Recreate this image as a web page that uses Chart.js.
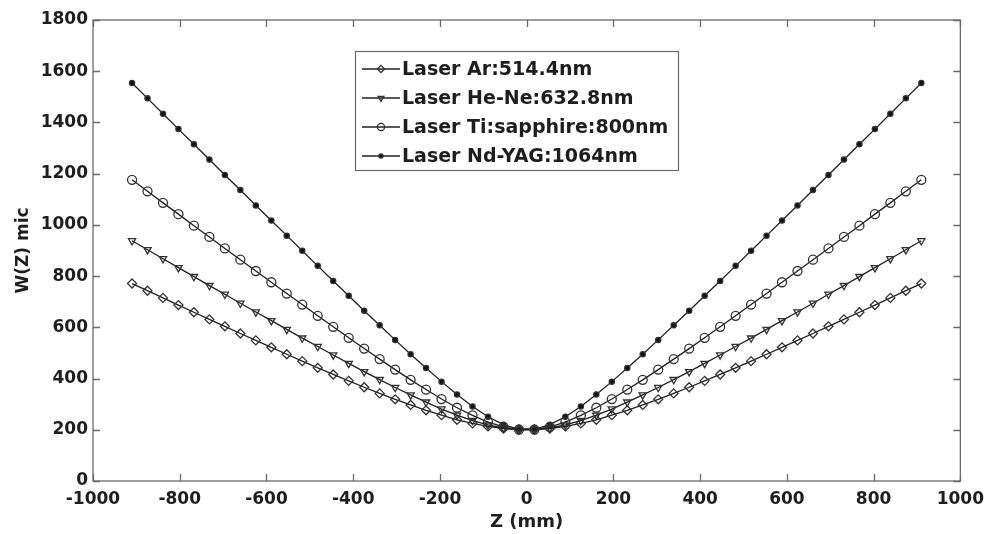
<!DOCTYPE html>
<html>
<head>
<meta charset="utf-8">
<script src="https://cdn.jsdelivr.net/npm/chart.js@4.4.1/dist/chart.umd.min.js"></script>
<style>
  html, body { margin: 0; padding: 0; background: #ffffff; }
  #wrap { width: 992px; height: 534px; }
</style>
</head>
<body>
<div id="wrap"><canvas id="c" width="992" height="534"></canvas></div>
<script>
// Propagation distance z (mm)
const zValues = [
  -910.0, -874.3, -838.6, -803.0, -767.3, -731.6, -695.9, -660.2, -624.5, -588.8,
  -553.2, -517.5, -481.8, -446.1, -410.4, -374.7, -339.0, -303.3, -267.6, -232.0,
  -196.3, -160.6, -124.9, -89.2, -53.5, -17.8,
  17.8, 53.5, 89.2, 124.9, 160.6, 196.3, 232.0, 267.6, 303.3, 339.0,
  374.7, 410.4, 446.1, 481.8, 517.5, 553.2, 588.8, 624.5, 660.2, 695.9,
  731.6, 767.3, 803.0, 838.6, 874.3, 910.0
];

// Beam radius W(z) in microns for each laser
const arValues = [
  771, 743, 715, 687, 659, 631, 604, 576, 549, 522, 495, 468, 442, 416, 391, 366, 342, 319, 297, 276, 257, 239, 225, 213, 205, 201,
  201, 205, 213, 225, 239, 257, 276, 297, 319, 342, 366, 391, 416, 442, 468, 495, 522, 549, 576, 604, 631, 659, 687, 715, 743, 771
];
const heneValues = [
  938, 903, 868, 833, 798, 763, 729, 694, 660, 626, 592, 558, 525, 492, 459, 427, 396, 365, 336, 308, 281, 257, 236, 219, 207, 201,
  201, 207, 219, 236, 257, 281, 308, 336, 365, 396, 427, 459, 492, 525, 558, 592, 626, 660, 694, 729, 763, 798, 833, 868, 903, 938
];
const tiValues = [
  1176, 1131, 1086, 1042, 997, 953, 908, 864, 820, 776, 732, 689, 645, 602, 559, 517, 476, 435, 395, 357, 320, 286, 256, 230, 211, 201,
  201, 211, 230, 256, 286, 320, 357, 395, 435, 476, 517, 559, 602, 645, 689, 732, 776, 820, 864, 908, 953, 997, 1042, 1086, 1131, 1176
];
const ndValues = [
  1554, 1494, 1434, 1374, 1315, 1255, 1195, 1136, 1076, 1017, 958, 899, 840, 781, 723, 665, 608, 551, 495, 441, 388, 338, 291, 251, 220, 202,
  202, 220, 251, 291, 338, 388, 441, 495, 551, 608, 665, 723, 781, 840, 899, 958, 1017, 1076, 1136, 1195, 1255, 1315, 1374, 1434, 1494, 1554
];

const seriesLabels = [
  'Laser Ar:514.4nm',
  'Laser He-Ne:632.8nm',
  'Laser Ti:sapphire:800nm',
  'Laser Nd-YAG:1064nm'
];

const xTicks = [-1000, -800, -600, -400, -200, 0, 200, 400, 600, 800, 1000];
const yTicks = [0, 200, 400, 600, 800, 1000, 1200, 1400, 1600, 1800];

const FONT = '"DejaVu Sans", Verdana, sans-serif';
const INK = '#1e1e1e';
const LINE = '#202020';
const FRAME = '#6a6a6a';

function toPoints(ys) {
  return zValues.map((z, i) => ({ x: z, y: ys[i] }));
}

const markerStyles = [
  { pointStyle: 'rectRot', radius: 4.5, rotation: 0, fill: 'rgba(255,255,255,0)' },
  { pointStyle: 'triangle', radius: 4.2, rotation: 180, fill: 'rgba(255,255,255,0)' },
  { pointStyle: 'circle', radius: 4.5, rotation: 0, fill: 'rgba(255,255,255,0)' },
  { pointStyle: 'circle', radius: 2.6, rotation: 0, fill: '#111111' }
];

const datasets = [arValues, heneValues, tiValues, ndValues].map((vals, i) => ({
  label: seriesLabels[i],
  data: toPoints(vals),
  borderColor: LINE,
  borderWidth: 1.3,
  pointStyle: markerStyles[i].pointStyle,
  pointRadius: markerStyles[i].radius,
  pointRotation: markerStyles[i].rotation,
  pointBackgroundColor: markerStyles[i].fill,
  pointBorderColor: '#333333',
  pointBorderWidth: 1.3,
  tension: 0,
  fill: false
}));

// Frame around the plot area with inward-pointing tick marks on all four sides
const framePlugin = {
  id: 'frame',
  afterDatasetsDraw(chart) {
    const { ctx, chartArea: a, scales } = chart;
    ctx.save();
    ctx.strokeStyle = FRAME;
    ctx.lineWidth = 1.3;
    ctx.strokeRect(a.left, a.top, a.right - a.left, a.bottom - a.top);
    ctx.beginPath();
    const tl = 7;
    xTicks.forEach(v => {
      const px = Math.round(scales.x.getPixelForValue(v)) + 0.5;
      ctx.moveTo(px, a.bottom); ctx.lineTo(px, a.bottom - tl);
      ctx.moveTo(px, a.top); ctx.lineTo(px, a.top + tl);
    });
    yTicks.forEach(v => {
      const py = Math.round(scales.y.getPixelForValue(v)) + 0.5;
      ctx.moveTo(a.left, py); ctx.lineTo(a.left + tl, py);
      ctx.moveTo(a.right, py); ctx.lineTo(a.right - tl, py);
    });
    ctx.stroke();
    ctx.restore();
  }
};

// Boxed legend inside the plot, upper centre
const legendPlugin = {
  id: 'boxLegend',
  afterDatasetsDraw(chart) {
    const { ctx } = chart;
    const box = { x: 355.5, y: 51.5, w: 323, h: 119 };
    ctx.save();
    ctx.fillStyle = '#ffffff';
    ctx.fillRect(box.x, box.y, box.w, box.h);
    ctx.strokeStyle = FRAME;
    ctx.lineWidth = 1.2;
    ctx.strokeRect(box.x, box.y, box.w, box.h);
    const rowY = [69, 98, 127, 156];
    chart.data.datasets.forEach((ds, i) => {
      const y = rowY[i];
      ctx.strokeStyle = LINE;
      ctx.lineWidth = 1.3;
      ctx.beginPath();
      ctx.moveTo(362, y);
      ctx.lineTo(400, y);
      ctx.stroke();
      ctx.fillStyle = ds.pointBackgroundColor;
      ctx.strokeStyle = ds.pointBorderColor;
      ctx.lineWidth = ds.pointBorderWidth;
      Chart.helpers.drawPoint(ctx, {
        pointStyle: ds.pointStyle,
        rotation: ds.pointRotation,
        radius: ds.pointRadius * 0.8,
        borderWidth: ds.pointBorderWidth
      }, 381, y);
      ctx.fillStyle = INK;
      ctx.font = 'bold 19px ' + FONT;
      ctx.textAlign = 'left';
      ctx.textBaseline = 'middle';
      ctx.fillText(ds.label, 402, y + 1);
    });
    ctx.restore();
  }
};

new Chart(document.getElementById('c'), {
  type: 'line',
  data: { datasets },
  plugins: [framePlugin, legendPlugin],
  options: {
    responsive: false,
    animation: false,
    devicePixelRatio: 1,
    layout: { padding: { top: 20, right: 29, left: 0, bottom: 0 } },
    plugins: {
      legend: { display: false },
      tooltip: { enabled: false }
    },
    scales: {
      x: {
        type: 'linear',
        min: -1000,
        max: 1000,
        afterBuildTicks(scale) { scale.ticks = xTicks.map(v => ({ value: v })); },
        afterFit(scale) { scale.height = 53; },
        grid: { display: false, drawTicks: false },
        border: { display: false },
        ticks: {
          color: INK,
          padding: 8,
          maxRotation: 0,
          autoSkip: false,
          callback: v => String(v),
          font: { family: FONT, size: 17, weight: 'bold' }
        },
        title: {
          display: true,
          text: 'Z (mm)',
          color: INK,
          padding: { top: 0, bottom: 1 },
          font: { family: FONT, size: 18, weight: 'bold' }
        }
      },
      y: {
        type: 'linear',
        min: 0,
        max: 1800,
        afterBuildTicks(scale) { scale.ticks = yTicks.map(v => ({ value: v })); },
        afterFit(scale) { scale.width = 93; },
        grid: { display: false, drawTicks: false },
        border: { display: false },
        ticks: {
          color: INK,
          padding: 5,
          autoSkip: false,
          callback: v => String(v),
          font: { family: FONT, size: 17, weight: 'bold' }
        },
        title: {
          display: true,
          text: 'W(Z) mic',
          color: INK,
          padding: { top: 13, bottom: 0 },
          font: { family: FONT, size: 17, weight: 'bold' }
        }
      }
    }
  }
});
</script>
</body>
</html>
